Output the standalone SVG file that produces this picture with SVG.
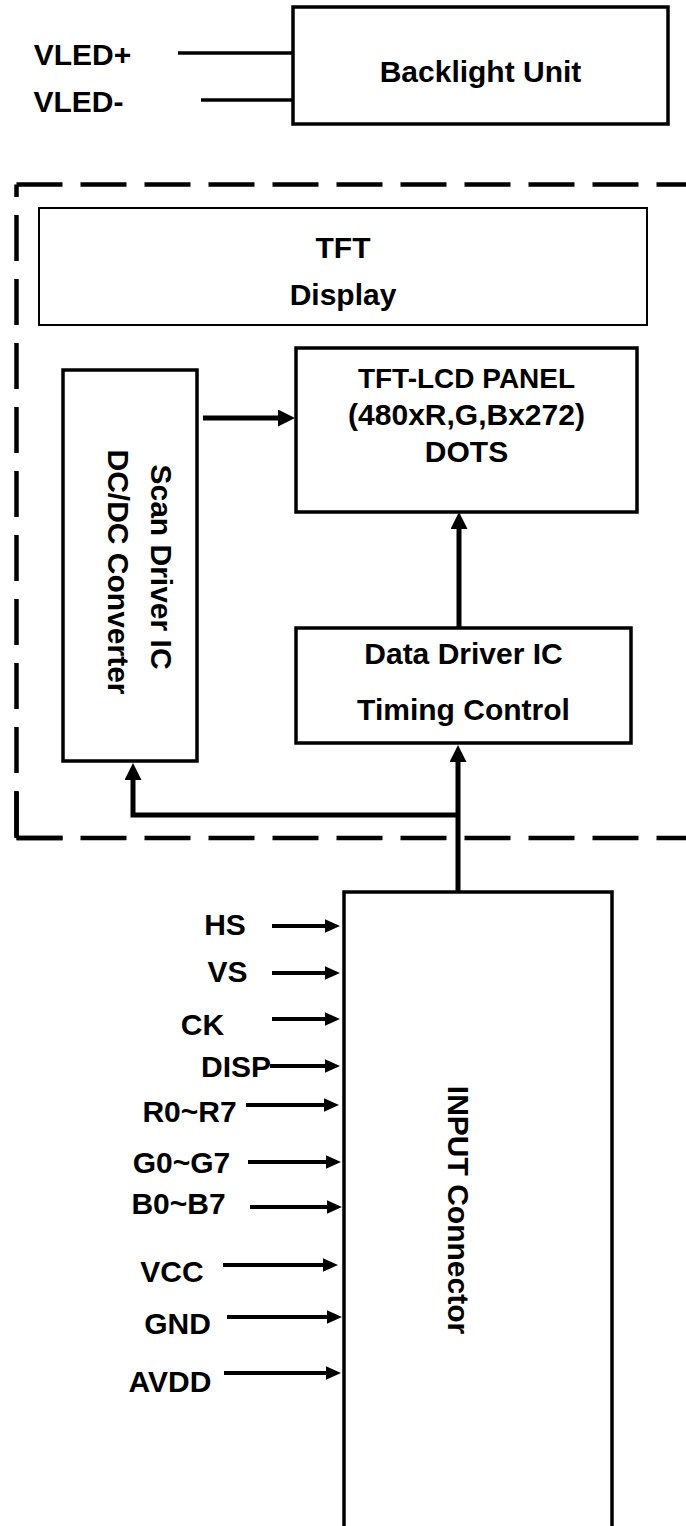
<svg xmlns="http://www.w3.org/2000/svg" width="686" height="1526" viewBox="0 0 686 1526">
<style>
text{font-family:"Liberation Sans",Arial,sans-serif;font-weight:bold;font-size:30px;fill:#000;text-anchor:middle}
.box{fill:#fff;stroke:#000;stroke-width:3.5}
.thin{fill:#fff;stroke:#000;stroke-width:2}
.dash{fill:none;stroke:#000;stroke-width:4.5;stroke-dasharray:46 18}
.wire{fill:none;stroke:#000;stroke-width:3.5}
.bus{fill:none;stroke:#000;stroke-width:5}
.in{fill:none;stroke:#000;stroke-width:4}
</style>
<defs>
<marker id="ab" markerUnits="userSpaceOnUse" markerWidth="18" markerHeight="18" refX="0" refY="8.5" orient="auto">
<path d="M0,0 L17,8.5 L0,17 z" fill="#000"/>
</marker>
<marker id="as" markerUnits="userSpaceOnUse" markerWidth="16" markerHeight="14" refX="0" refY="6.7" orient="auto">
<path d="M0,0 L15,6.7 L0,13.4 z" fill="#000"/>
</marker>
</defs>
<rect width="686" height="1526" fill="#fff"/>

<g id="module-frame">
<path class="dash" d="M16.5,184.5 H686"/>
<path class="dash" d="M16.5,838 H686"/>
<path class="dash" d="M16.5,184.5 V838" stroke-dashoffset="33.5"/>
<path class="dash" d="M16.5,838 V792" style="stroke-dasharray:none"/>
<path class="dash" d="M16.5,838 H62.5" style="stroke-dasharray:none"/>
</g>

<g id="backlight">
<rect class="box" x="293" y="7" width="375" height="117"/>
<text x="480.5" y="82">Backlight Unit</text>
</g>
<g id="vled-labels">
<text x="82.5" y="65">VLED+</text>
<text x="78.5" y="112">VLED-</text>
</g>

<g id="tft-display">
<rect class="thin" x="39" y="208" width="608" height="117"/>
<text x="343" y="258">TFT</text>
<text x="343" y="305">Display</text>
</g>

<g id="panel">
<rect class="box" x="296" y="348" width="341" height="164"/>
<text x="466.5" y="388" style="font-size:28px">TFT-LCD PANEL</text>
<text x="466.5" y="425">(480xR,G,Bx272)</text>
<text x="466.5" y="462">DOTS</text>
</g>

<g id="scan-driver">
<rect class="box" x="63" y="370" width="134" height="391"/>
<text transform="translate(151,567) rotate(90)">Scan Driver IC</text>
<text transform="translate(108,572) rotate(90)">DC/DC Converter</text>
</g>

<g id="data-driver">
<rect class="box" x="296" y="628" width="335" height="115"/>
<text x="463.5" y="664">Data Driver IC</text>
<text x="463.5" y="720">Timing Control</text>
</g>

<g id="input-connector">
<path class="box" d="M344,1530 V892 H612 V1530"/>
<text transform="translate(448,1210) rotate(90)">INPUT Connector</text>
</g>

<g id="input-labels">
<text x="225" y="935">HS</text>
<text x="227.5" y="982">VS</text>
<text x="202.5" y="1035">CK</text>
<text x="236" y="1077">DISP</text>
<text x="189.5" y="1122">R0~R7</text>
<text x="181.5" y="1173">G0~G7</text>
<text x="178.5" y="1214">B0~B7</text>
<text x="172" y="1282">VCC</text>
<text x="177.5" y="1334">GND</text>
<text x="170" y="1392">AVDD</text>
</g>

<g id="connectors">
<path class="wire" d="M178,53 H293"/>
<path class="wire" d="M201,100 H293"/>
<path class="bus" d="M203,418 H278" marker-end="url(#ab)"/>
<path class="bus" d="M459,628 V529" marker-end="url(#ab)"/>
<path class="bus" d="M458,892 V762" marker-end="url(#ab)"/>
<path class="bus" d="M458,815 H133 V780" marker-end="url(#ab)"/>
<path class="in" d="M272,926 H325" marker-end="url(#as)"/>
<path class="in" d="M272,973 H325" marker-end="url(#as)"/>
<path class="in" d="M272,1019 H325" marker-end="url(#as)"/>
<path class="in" d="M270,1066 H325" marker-end="url(#as)"/>
<path class="in" d="M246,1105 H324" marker-end="url(#as)"/>
<path class="in" d="M248,1162 H326" marker-end="url(#as)"/>
<path class="in" d="M250,1207 H327" marker-end="url(#as)"/>
<path class="in" d="M223,1265 H323" marker-end="url(#as)"/>
<path class="in" d="M227,1317 H327" marker-end="url(#as)"/>
<path class="in" d="M224,1373 H326" marker-end="url(#as)"/>
</g>
</svg>
